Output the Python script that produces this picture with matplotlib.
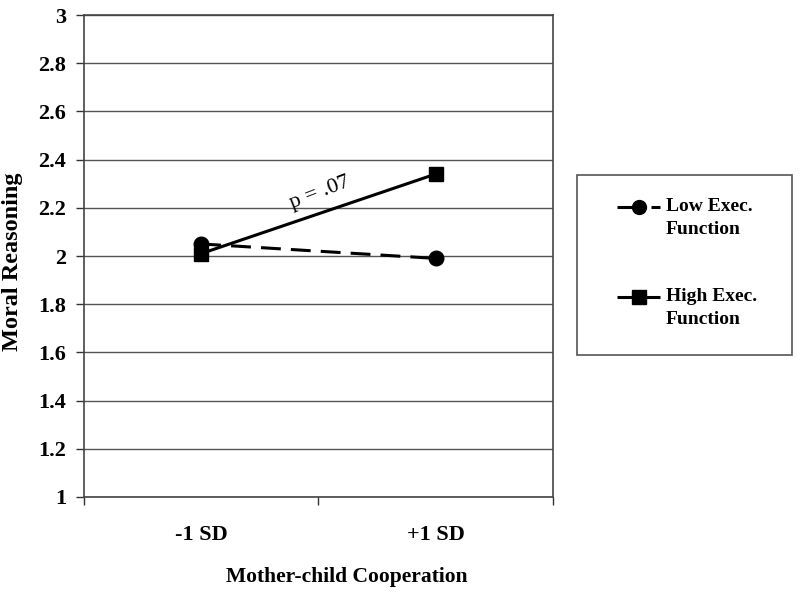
import matplotlib.pyplot as plt
from matplotlib.patches import Rectangle
from matplotlib.lines import Line2D

categorias = ["-1 SD", "+1 SD"]
baixo_ef = [2.05, 1.99]
alto_ef = [2.01, 2.34]
rotulos_y = ["1", "1.2", "1.4", "1.6", "1.8", "2", "2.2", "2.4", "2.6", "2.8", "3"]
valores_y = [1, 1.2, 1.4, 1.6, 1.8, 2, 2.2, 2.4, 2.6, 2.8, 3]
nomes_legenda = ["Low Exec.\nFunction", "High Exec.\nFunction"]

plt.rcParams["font.family"] = ["Liberation Serif", "DejaVu Serif"]

fig = plt.figure(figsize=(8, 5.98), dpi=100)
ax = fig.add_axes([0.105, 0.1689, 0.586, 0.806])

x = [0.5, 1.5]
tracejado = (6.5, 3.3)
ax.plot(x, baixo_ef, color="black", lw=2.2, dashes=tracejado,
        marker="o", markersize=10.5, zorder=3)
ax.plot(x, alto_ef, color="black", lw=2.2,
        marker="s", markersize=10.5, zorder=4)

ax.set_xlim(0, 2)
ax.set_ylim(1, 3)
ax.set_yticks(valores_y)
ax.set_yticklabels(rotulos_y, fontsize=16, fontweight="bold")
ax.set_xticks([0, 1, 2])
ax.set_xticklabels([])
ax.set_xticks(x, minor=True)
ax.set_xticklabels(categorias, minor=True, fontsize=16, fontweight="bold")
ax.tick_params(axis="x", which="minor", length=0, pad=20)
ax.tick_params(axis="x", which="major", length=6, width=1, color="#333333")
ax.tick_params(axis="y", length=6, width=1, color="#333333", pad=7)

ax.grid(axis="y", color="#555555", lw=1)
ax.set_axisbelow(True)
for s in ax.spines.values():
    s.set_color("#444444")
    s.set_linewidth(1.2)

ax.set_xlabel("Mother-child Cooperation", fontsize=15.5, fontweight="bold")
ax.xaxis.set_label_coords(0.561, -0.145)
ax.set_ylabel("Moral Reasoning", fontsize=17.5, fontweight="bold")
ax.yaxis.set_label_coords(-0.13, 0.488)

ax.text(1.006, 2.26, "p = .07", fontsize=16, rotation=21,
        ha="center", va="center")

# legenda desenhada a mao, com o simbolo alinhado a primeira linha
fig.patches.append(Rectangle((0.721, 0.4064), 0.269, 0.301, transform=fig.transFigure,
                             fill=False, edgecolor="#555555", lw=1.2))
ys = [1 - 207 / 598, 1 - 297 / 598]
marcadores = ["o", "s"]
for i, (nome, mk, yy) in enumerate(zip(nomes_legenda, marcadores, ys)):
    if i == 0:
        trechos = [(617, 634), (651, 660)]
    else:
        trechos = [(617, 660)]
    for a, b in trechos:
        fig.lines.append(Line2D([a / 800, b / 800], [yy, yy], transform=fig.transFigure,
                                color="black", lw=2.2, solid_capstyle="butt"))
    fig.lines.append(Line2D([638.5 / 800], [yy], transform=fig.transFigure,
                            color="black", marker=mk, markersize=10,
                            linestyle="none"))
    fig.text(666 / 800, yy + 9 / 598, nome, fontsize=14, fontweight="bold",
             ha="left", va="top", linespacing=1.45)

fig.savefig("out.png", dpi=100)
